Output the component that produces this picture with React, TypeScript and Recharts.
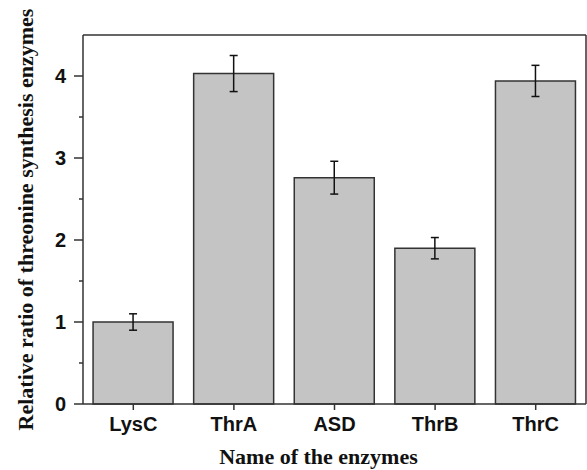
import { ComposedChart, Bar, XAxis, YAxis, ErrorBar, CartesianGrid } from 'recharts';

const enzymes = ['LysC', 'ThrA', 'ASD', 'ThrB', 'ThrC'];
const ratios = [1.0, 4.03, 2.76, 1.9, 3.94];
const errors = [0.1, 0.22, 0.2, 0.13, 0.19];
const yTicks = [0, 0.5, 1, 1.5, 2, 2.5, 3, 3.5, 4];

const data = enzymes.map((name, i) => ({ name, ratio: ratios[i], err: errors[i] }));

const ink = '#333333';
const tickFont = { fontSize: 20, fontWeight: 700, fill: '#111', fontFamily: 'Liberation Sans, Arial, sans-serif' };
const labelFont = { fontSize: 22, fontWeight: 700, fill: '#111', fontFamily: 'Liberation Serif, Times New Roman, serif' };

const TICK = 9;
const GAP = 8;

// y tick: long mark + label on whole numbers, short mark on halves
const YTick = (props: any) => {
  const { x, y, payload } = props;
  const v = payload.value as number;
  const major = Number.isInteger(v);
  const end = x + GAP + TICK;
  return (
    <g>
      <line x1={end - (major ? TICK : 4)} x2={end} y1={y} y2={y} stroke={ink} strokeWidth={1.5} />
      {major && (
        <text x={x} y={y} dy="0.36em" textAnchor="end" style={tickFont}>
          {v}
        </text>
      )}
    </g>
  );
};

export default function App() {
  return (
    <div style={{ position: 'absolute', left: 0, top: 0, background: '#fff' }}>
      <ComposedChart
        width={587}
        height={470}
        data={data}
        margin={{ top: 35, right: 1, bottom: 0, left: 0 }}
        barCategoryGap="10%"
      >
        {/* top and right edges of the frame */}
        <CartesianGrid
          stroke={ink}
          strokeWidth={1.5}
          strokeDasharray=""
          horizontalCoordinatesGenerator={({ offset }: any) => [offset.top]}
          verticalCoordinatesGenerator={({ offset }: any) => [offset.left + offset.width]}
        />
        <XAxis
          dataKey="name"
          height={66}
          stroke={ink}
          strokeWidth={1.5}
          tickSize={6}
          tickMargin={7}
          tick={tickFont}
          label={{ value: 'Name of the enzymes', position: 'insideBottom', offset: 6, dx: -16, style: labelFont }}
        />
        <YAxis
          domain={[0, 4.5]}
          ticks={yTicks}
          interval={0}
          width={83}
          stroke={ink}
          strokeWidth={1.5}
          tickLine={false}
          tickSize={TICK}
          tickMargin={GAP}
          tick={<YTick />}
          label={{
            value: 'Relative ratio of threonine synthesis enzymes',
            angle: -90,
            position: 'insideLeft',
            offset: 25,
            style: { ...labelFont, textAnchor: 'middle' },
          }}
        />
        <Bar dataKey="ratio" fill="#c4c4c4" stroke={ink} strokeWidth={1.5} isAnimationActive={false}>
          <ErrorBar dataKey="err" width={4} stroke="#111" strokeWidth={1.5} isAnimationActive={false} />
        </Bar>
      </ComposedChart>
    </div>
  );
}
